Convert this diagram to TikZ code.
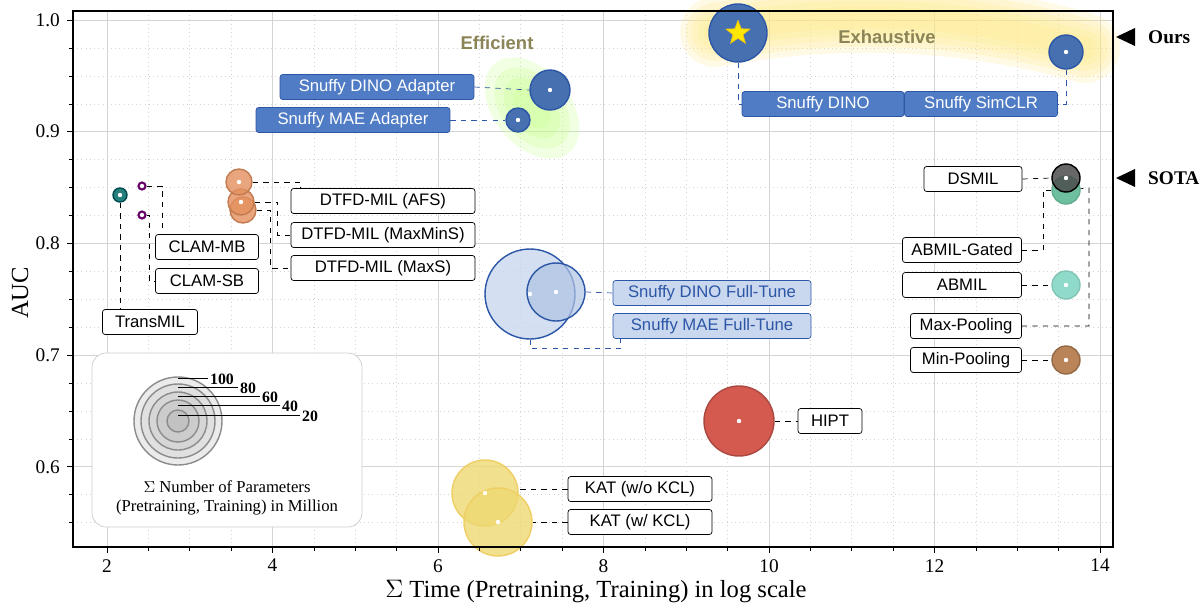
\documentclass[tikz,border=0pt]{standalone}
\usepackage{fontspec}
\setmainfont{Liberation Serif}
\newfontfamily\labfont{Liberation Sans}
\usetikzlibrary{shapes.geometric,calc,backgrounds}
\definecolor{gridgray}{HTML}{D4D4D4}
\definecolor{snblue}{HTML}{4F7CC4}
\definecolor{sndark}{HTML}{2C56A6}
\definecolor{snlight}{HTML}{C9D7EF}
\definecolor{olive}{HTML}{8A8456}
\definecolor{dtfdor}{HTML}{E4905E}
\definecolor{hiptred}{HTML}{D45A50}
\definecolor{katyel}{HTML}{EDD870}
\definecolor{gatedgr}{HTML}{6DBFA0}
\definecolor{abmilcy}{HTML}{90DACA}
\definecolor{minbr}{HTML}{B98458}

\begin{document}
\begin{tikzpicture}[x=0.02cm,y=-0.02cm,
  pt/.style={circle,draw,line width=0.8pt,inner sep=0pt},
  lab/.style={rectangle,draw,thin,rounded corners=1.5pt,fill=white,font=\labfont\fontsize{9.5}{11}\selectfont,minimum height=0.5cm,inner sep=2pt},
  bluelab/.style={lab,fill=snblue,draw=sndark,text=white},
  lightlab/.style={lab,fill=snlight,draw=sndark,text=sndark},
  con/.style={dashed,thin},
  bcon/.style={dashed,thin,sndark},
  dot/.style={circle,fill=white,inner sep=0pt,minimum size=2.5pt}]

\useasboundingbox (0,0) rectangle (1200,612);

% points
\node[pt,fill=teal!70!gray,draw=teal!60!black,minimum size=0.28cm] (transmil) at (120,195) {};
\node[pt,fill=white,draw=violet!80!black,line width=1.2pt,minimum size=0.14cm] (clammb) at (142,186) {};
\node[pt,fill=white,draw=violet!80!black,line width=1.2pt,minimum size=0.14cm] (clamsb) at (142,215) {};
\node[pt,fill=dtfdor,draw=dtfdor!85!black,fill opacity=0.8,minimum size=0.52cm] (maxs) at (243,210) {};
\node[pt,fill=dtfdor,draw=dtfdor!85!black,fill opacity=0.8,minimum size=0.52cm] (maxmins) at (241,202) {};
\node[pt,fill=dtfdor,draw=dtfdor!85!black,fill opacity=0.8,minimum size=0.52cm] (afs) at (239,182) {};
\node[pt,fill=snblue!90!black,draw=sndark,minimum size=0.8cm] (dinoA) at (550,90) {};
\node[pt,fill=snblue!90!black,draw=sndark,minimum size=0.48cm] (maeA) at (518,120) {};
\node[pt,fill=snblue!90!black,draw=sndark,minimum size=1.16cm] (dino) at (738,33) {};
\node[pt,fill=snblue!90!black,draw=sndark,minimum size=0.68cm] (simclr) at (1066,52) {};
\node[pt,fill=snlight,fill opacity=0.8,draw=sndark,minimum size=1.8cm] (maeFT) at (530,294) {};
\node[pt,fill=snblue!45,fill opacity=0.7,draw=sndark,minimum size=1.16cm] (dinoFT) at (556,292) {};
\node[pt,fill=hiptred,draw=hiptred!80!black,minimum size=1.4cm] (hipt) at (739,421) {};
\node[pt,fill=katyel,draw=katyel!90!orange,fill opacity=0.8,minimum size=1.32cm] (katwo) at (485,493) {};
\node[pt,fill=katyel,draw=katyel!90!orange,fill opacity=0.8,minimum size=1.36cm] (katw) at (498,522) {};
\node[pt,fill=gatedgr,draw=gatedgr!90!black,minimum size=0.56cm] (gated) at (1066,190) {};
\node[pt,fill=black!70,draw=black,fill opacity=0.85,minimum size=0.56cm] (dsmil) at (1066,178) {};
\node[pt,fill=abmilcy,draw=abmilcy!90!black,minimum size=0.56cm] (abmil) at (1066,285) {};
\node[pt,fill=minbr,draw=minbr!80!black,minimum size=0.56cm] (minpool) at (1066,360) {};
\foreach \p in {transmil,afs,maxmins,dinoA,maeA,simclr,maeFT,dinoFT,hipt,katwo,katw,dsmil,abmil,minpool}
  \node[dot] at (\p) {};
\node[star,star points=5,star point ratio=2.4,fill=yellow!90!orange,draw=yellow!60!orange,inner sep=0pt,minimum size=0.5cm] at (dino) {};

% labels
\node[lab,minimum width=1.9cm] (transmilL) at (150,322) {TransMIL};
\node[lab,minimum width=2.06cm] (clammbL) at (207,247) {CLAM-MB};
\node[lab,minimum width=2.06cm] (clamsbL) at (207,281) {CLAM-SB};
\node[lab,minimum width=3.68cm] (afsL) at (383,201) {DTFD-MIL (AFS)};
\node[lab,minimum width=3.68cm] (maxminsL) at (383,235) {DTFD-MIL (MaxMinS)};
\node[lab,minimum width=3.68cm] (maxsL) at (383,268) {DTFD-MIL (MaxS)};
\node[bluelab,minimum width=3.88cm] (dinoAL) at (377,87) {Snuffy DINO Adapter};
\node[bluelab,minimum width=3.88cm] (maeAL) at (353,120) {Snuffy MAE Adapter};
\node[bluelab,minimum width=3.24cm] (dinoL) at (823,104) {Snuffy DINO};
\node[bluelab,minimum width=3.06cm] (simclrL) at (981,104) {Snuffy SimCLR};
\node[lightlab,minimum width=3.96cm] (dinoFTL) at (712,293) {Snuffy DINO Full-Tune};
\node[lightlab,minimum width=3.96cm] (maeFTL) at (712,326) {Snuffy MAE Full-Tune};
\node[lab,minimum width=1.28cm] (hiptL) at (830,421) {HIPT};
\node[lab,minimum width=2.88cm] (katwoL) at (640,489) {KAT (w/o KCL)};
\node[lab,minimum width=2.88cm] (katwL) at (640,522) {KAT (w/ KCL)};
\node[lab,minimum width=1.96cm] (dsmilL) at (973,179) {DSMIL};
\node[lab,minimum width=2.38cm] (gatedL) at (962,250) {ABMIL-Gated};
\node[lab,minimum width=2.38cm] (abmilL) at (962,285) {ABMIL};
\node[lab,minimum width=2.22cm] (maxpoolL) at (966,326) {Max-Pooling};
\node[lab,minimum width=2.22cm] (minpoolL) at (966,360) {Min-Pooling};

\node[font=\labfont\bfseries\fontsize{10.5}{12}\selectfont,text=olive] (effT) at (497,43) {Efficient};
\node[font=\labfont\bfseries\fontsize{10.5}{12}\selectfont,text=olive] (exhT) at (887,37) {Exhaustive};
\node[font=\bfseries\fontsize{11}{13}\selectfont,anchor=west] (ours) at (1142,37) {Ours};
\node[font=\bfseries\fontsize{11}{13}\selectfont,anchor=west] (sota) at (1142,178) {SOTA};
\fill (1116,37) -- (1135,28) -- (1135,46) -- cycle;
\fill (1116,178) -- (1135,169) -- (1135,187) -- cycle;

% legend
\node[draw=black!20,rounded corners=8pt,fill=white,minimum width=5.4cm,minimum height=3.48cm] (legend) at (227,440) {};
\foreach \r/\g in {44/8,37/12,29/16,21/20,11/24}
  \filldraw[fill=black!\g,draw=black!45,thick] (178,421) circle[radius=\r];
\foreach \r/\e in {100/208,80/238,60/260,40/280,20/300}{
  \pgfmathsetmacro{\yy}{415-(\r-20)*0.4625}
  \draw[thin] (178,\yy) -- (\e,\yy);
  \node[font=\bfseries\fontsize{9}{10}\selectfont,anchor=west,inner sep=1pt] at (\e,\yy+1) {\r};
}
\node[font=\fontsize{9.5}{11}\selectfont,align=center] (legT) at (227,498) {$\Sigma$ Number of Parameters\\(Pretraining, Training) in Million};

% axes
\draw[line width=0.9pt] (73,11) rectangle (1113,547);
\foreach \v [evaluate=\v as \xx using 107+(\v-2)*82.75] in {2,4,...,14}{
  \draw (\xx,547) -- (\xx,553);
  \node[font=\fontsize{11}{13}\selectfont,anchor=north] at (\xx,553) {\v};
}
\foreach \v [evaluate=\v as \xx using 107+(\v-2)*82.75] in {2.5,3,...,13.5}
  \draw (\xx,547) -- (\xx,551);
\foreach \a [evaluate=\a as \yy using 20+(1-\a)*1117] in {0.6,0.7,0.8,0.9,1.0}{
  \draw (73,\yy) -- (67,\yy);
  \node[font=\fontsize{11}{13}\selectfont,anchor=east] at (66,\yy) {\a};
}
\foreach \a [evaluate=\a as \yy using 20+(1-\a)*1117] in {0.55,0.575,...,1.0}
  \draw (73,\yy) -- (69,\yy);
\node[font=\fontsize{14}{16}\selectfont,rotate=90] (ylab) at (20,293) {AUC};
\node[font=\fontsize{14}{16}\selectfont] (xlab) at (596,592) {$\Sigma$ Time (Pretraining, Training) in log scale};

\begin{scope}[on background layer]
  \foreach \v [evaluate=\v as \xx using 107+(\v-2)*82.75] in {2,2.5,...,14}
    \draw[gridgray,dotted] (\xx,11) -- (\xx,547);
  \foreach \a [evaluate=\a as \yy using 20+(1-\a)*1117] in {0.55,0.575,...,1.0}
    \draw[gridgray,dotted] (73,\yy) -- (1113,\yy);
  \foreach \v [evaluate=\v as \xx using 107+(\v-2)*82.75] in {2,4,...,14}
    \draw[gridgray] (\xx,11) -- (\xx,547);
  \foreach \a [evaluate=\a as \yy using 20+(1-\a)*1117] in {0.6,0.7,0.8,0.9,1.0}
    \draw[gridgray] (73,\yy) -- (1113,\yy);
  % glows
  \foreach \w in {70,58,46,34,22}
    \draw[yellow!70!orange!45,line width=\w*0.02cm,opacity=0.22,line cap=round]
      (715,32) .. controls (830,10) and (960,12) .. (1085,48);
  \foreach \s in {1,0.8,0.6,0.4}
    \fill[green!50!yellow!45,opacity=0.25,rotate around={-50:(532,108)}]
      (532,108) ellipse[x radius=58*\s,y radius=38*\s];
  % connectors
  \draw[con] (transmil.south) -- (transmil.south |- transmilL.north);
  \draw[con] (clammb.east) -| ($(clammbL.north west)+(7,0)$);
  \draw[con] (clamsb.east) -- ++(3,0) |- (clamsbL.west);
  \draw[con] (afs.east) -| ($(afsL.north west)+(10,0)$);
  \draw[con] (maxmins.east) -- ++(23,0) |- (maxminsL.west);
  \draw[con] (maxs.east) -- ++(14,0) |- (maxsL.west);
  \draw[bcon] (dinoAL.east) -- (dinoA.west);
  \draw[bcon] (maeAL.east) -- (maeA.west);
  \draw[bcon] (dino.south) |- (dinoL.west);
  \draw[bcon] (simclr.south) |- (simclrL.east);
  \draw[bcon] (dinoFT.east) -- (dinoFTL.west);
  \draw[bcon] (maeFT.south) -- ++(0,9) -| ($(maeFTL.south west)+(8,0)$);
  \draw[con] (hipt.east) -- (hiptL.west);
  \draw[con] (katwoL.west) -- (katwoL.west -| katwo.east);
  \draw[con] (katwL.west) -- (katw.east);
  \draw[con] (dsmilL.east) -- (dsmil.west);
  \draw[con] (gatedL.east) -- ++(21,0) |- (gated.west);
  \draw[con] (maxpoolL.east) -| (1089,188) -- (gated.center);
  \draw[con] (abmilL.east) -- (abmil.west);
  \draw[con] (minpoolL.east) -- (minpool.west);
\end{scope}
\end{tikzpicture}
\end{document}
